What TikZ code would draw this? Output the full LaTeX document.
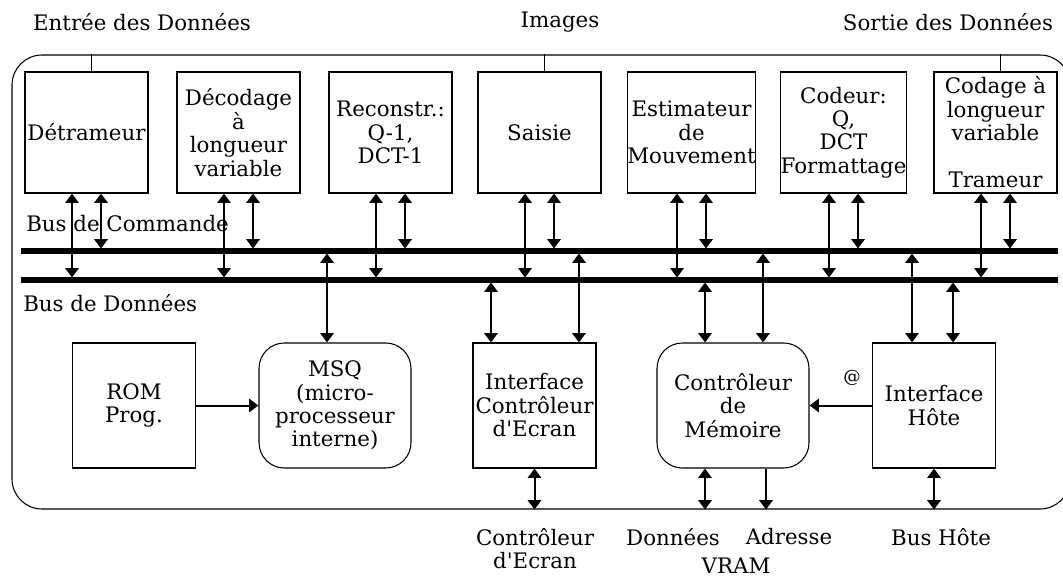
\documentclass[tikz,border=0pt]{standalone}
\usepackage{fontspec}
\setmainfont{DejaVu Serif}
\usetikzlibrary{arrows.meta}
\newcommand{\diagfont}{\fontsize{16}{17.6}\selectfont}

\begin{document}
\begin{tikzpicture}[x=0.75pt, y=-0.75pt,
    unitbox/.style={draw, line width=0.8pt, minimum width=92.25pt, minimum height=90.75pt,
                    inner sep=0pt, align=center, font=\diagfont},
    lowbox/.style={unitbox, minimum height=93.75pt},
    roundbox/.style={lowbox, minimum width=114pt, rounded corners=19pt},
    chipframe/.style={draw, line width=0.8pt, minimum width=793.5pt, minimum height=340.5pt,
                      rounded corners=22.5pt, inner sep=0pt},
    lbl/.style={inner sep=0pt, align=center, font=\diagfont},
    bus/.style={line width=3.8pt},
    tick/.style={line width=0.9pt},
    arrow/.style={-{Triangle[width=10pt,length=7pt]}, line width=1.5pt},
    dblarrow/.style={{Triangle[width=10pt,length=7pt]}-{Triangle[width=10pt,length=7pt]}, line width=1.5pt}
]
    \useasboundingbox (0,0) rectangle (1063,581);

    % boitier
    \node[chipframe] (chip) at (541,282) {};

    \node[lbl] (inlbl) at (142,22) {Entrée des Données};
    \node[lbl] (imglbl) at (560,22) {Images};
    \node[lbl] (outlbl) at (948,22) {Sortie des Données};

    % unites de traitement
    \node[unitbox] (detr) at (86.5,132.5) {Détrameur};
    \node[unitbox] (vld) at (238.5,132.5) {Décodage\\à\\longueur\\variable};
    \node[unitbox] (recon) at (390.5,132.5) {Reconstr.:\\Q-1,\\DCT-1};
    \node[unitbox] (saisie) at (539.5,132.5) {Saisie};
    \node[unitbox] (motion) at (691.5,132.5) {Estimateur\\de\\Mouvement};
    \node[unitbox] (coder) at (843.5,132.5) {Codeur:\\Q,\\DCT\\Formattage};
    \node[unitbox] (vlc) at (995.5,132.5) {Codage à\\longueur\\variable\\[17.6pt]Trameur};

    \draw[tick] ([shift={(5,0)}]detr.north) -- ([shift={(5,0)}]detr.north |- chip.north);
    \draw[tick] ([shift={(5,0)}]saisie.north) -- ([shift={(5,0)}]saisie.north |- chip.north);
    \draw[tick] ([shift={(5,0)}]vlc.north) -- ([shift={(5,0)}]vlc.north |- chip.north);

    % bus
    \coordinate (cmdW) at (21,251);
    \coordinate (cmdE) at (1058,251);
    \coordinate (datW) at (21,280);
    \coordinate (datE) at (1058,280);
    \coordinate (cmdN) at (0,248.5);
    \coordinate (cmdS) at (0,253.5);
    \coordinate (datN) at (0,277.5);
    \coordinate (datS) at (0,282.5);
    \draw[bus] (cmdW) -- (cmdE);
    \draw[bus] (datW) -- (datE);
    \node[lbl, anchor=west] (cmdlbl) at (26,224) {Bus de Commande};
    \node[lbl, anchor=west] (datlbl) at (23,303) {Bus de Données};

    \draw[dblarrow] ([shift={(-14.5,0)}]detr.south) -- ([shift={(-14.5,0)}]detr.south |- datN);
    \draw[dblarrow] ([shift={(14.5,0)}]detr.south) -- ([shift={(14.5,0)}]detr.south |- cmdN);
    \draw[dblarrow] ([shift={(-14.5,0)}]vld.south) -- ([shift={(-14.5,0)}]vld.south |- datN);
    \draw[dblarrow] ([shift={(14.5,0)}]vld.south) -- ([shift={(14.5,0)}]vld.south |- cmdN);
    \draw[dblarrow] ([shift={(-14.5,0)}]recon.south) -- ([shift={(-14.5,0)}]recon.south |- datN);
    \draw[dblarrow] ([shift={(14.5,0)}]recon.south) -- ([shift={(14.5,0)}]recon.south |- cmdN);
    \draw[dblarrow] ([shift={(-14.5,0)}]saisie.south) -- ([shift={(-14.5,0)}]saisie.south |- datN);
    \draw[dblarrow] ([shift={(14.5,0)}]saisie.south) -- ([shift={(14.5,0)}]saisie.south |- cmdN);
    \draw[dblarrow] ([shift={(-14.5,0)}]motion.south) -- ([shift={(-14.5,0)}]motion.south |- datN);
    \draw[dblarrow] ([shift={(14.5,0)}]motion.south) -- ([shift={(14.5,0)}]motion.south |- cmdN);
    \draw[dblarrow] ([shift={(-14.5,0)}]coder.south) -- ([shift={(-14.5,0)}]coder.south |- datN);
    \draw[dblarrow] ([shift={(14.5,0)}]coder.south) -- ([shift={(14.5,0)}]coder.south |- cmdN);
    \draw[dblarrow] ([shift={(-14.5,0)}]vlc.south) -- ([shift={(-14.5,0)}]vlc.south |- datN);
    \draw[dblarrow] ([shift={(14.5,0)}]vlc.south) -- ([shift={(14.5,0)}]vlc.south |- cmdN);

    % partie basse
    \node[lowbox] (rom) at (134,405.5) {ROM\\Prog.};
    \node[roundbox] (msq) at (335,405.5) {MSQ\\(micro-\\processeur\\interne)};
    \node[lowbox] (ice) at (534.5,405.5) {Interface\\Contrôleur\\d\textquotesingle Ecran};
    \node[roundbox] (memctl) at (733,405.5) {Contrôleur\\de\\Mémoire};
    \node[lowbox] (host) at (934,405.5) {Interface\\Hôte};

    \draw[arrow] (rom) -- (msq);
    \draw[arrow] (host) -- (memctl);
    \node[lbl, font=\fontsize{13}{15}\selectfont] (addrmark) at (852,378) {@};

    \draw[dblarrow] ([shift={(-8,0)}]msq.north |- cmdS) -- ([shift={(-8,0)}]msq.north);
    \draw[dblarrow] ([shift={(-43.5,0)}]ice.north |- datS) -- ([shift={(-43.5,0)}]ice.north);
    \draw[dblarrow] ([shift={(44.5,0)}]ice.north |- cmdS) -- ([shift={(44.5,0)}]ice.north);
    \draw[dblarrow] ([shift={(-28,0)}]memctl.north |- datS) -- ([shift={(-28,0)}]memctl.north);
    \draw[dblarrow] ([shift={(30,0)}]memctl.north |- cmdS) -- ([shift={(30,0)}]memctl.north);
    \draw[dblarrow] ([shift={(-22,0)}]host.north |- cmdS) -- ([shift={(-22,0)}]host.north);
    \draw[dblarrow] ([shift={(19,0)}]host.north |- datS) -- ([shift={(19,0)}]host.north);

    \draw[dblarrow] (ice.south) -- (ice.south |- chip.south);
    \draw[dblarrow] ([shift={(-28,0)}]memctl.south) -- ([shift={(-28,0)}]memctl.south |- chip.south);
    \draw[arrow] ([shift={(33,0)}]memctl.south) -- ([shift={(33,0)}]memctl.south |- chip.south);
    \draw[dblarrow] (host.south) -- (host.south |- chip.south);

    \node[lbl] (vidlbl) at (535,548.5) {Contrôleur\\d\textquotesingle Ecran};
    \node[lbl] (vdata) at (673,537) {Données};
    \node[lbl] (vaddr) at (789,537) {Adresse};
    \node[lbl] (vram) at (736,566) {VRAM};
    \node[lbl] (hostbus) at (941,537) {Bus Hôte};
\end{tikzpicture}
\end{document}
